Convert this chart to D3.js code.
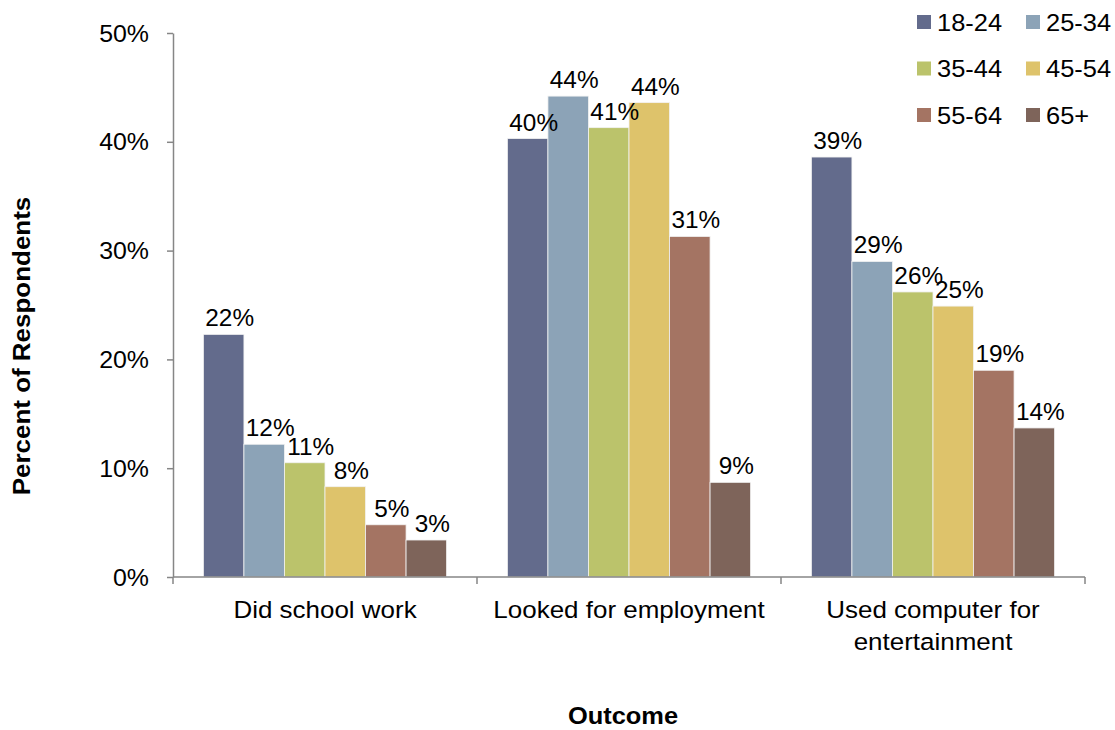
<!DOCTYPE html>
<html><head><meta charset="utf-8">
<script src="https://cdn.jsdelivr.net/npm/d3@7"></script>
<style>body{margin:0;background:#fff}text{font-family:"Liberation Sans",Arial,sans-serif;fill:#000}</style>
</head><body><svg id="c" width="1115" height="730"></svg>
<script>
const categories = [["Did school work"], ["Looked for employment"], ["Used computer for", "entertainment"]];
const seriesNames = ["18-24", "25-34", "35-44", "45-54", "55-64", "65+"];
const values = [
  [22.3, 12.2, 10.5, 8.3, 4.8, 3.4],
  [40.3, 44.2, 41.3, 43.6, 31.3, 8.7],
  [38.6, 29.0, 26.2, 24.9, 19.0, 13.7]
];
const labels = [
  ["22%", "12%", "11%", "8%", "5%", "3%"],
  ["40%", "44%", "41%", "44%", "31%", "9%"],
  ["39%", "29%", "26%", "25%", "19%", "14%"]
];
const yTicks = [0, 10, 20, 30, 40, 50];
const colors = ["#636b8c", "#8ca3b7", "#bbc36b", "#dec36b", "#a47463", "#7e645a"];

const svg = d3.select("#c");
const mLeft = 173, mRight = 1085, mTop = 33, mBottom = 577;
const SX = 1.06;
const x0 = d3.scaleBand().domain(d3.range(categories.length)).range([mLeft, mRight]).padding(0);
const x1 = d3.scaleBand().domain(d3.range(seriesNames.length)).range([0, x0.bandwidth()]).paddingOuter(0.75).paddingInner(0);
const y = d3.scaleLinear().domain([0, 50]).range([mBottom, mTop]);
const axisColor = "#868686";

function txt(parent, x, yy, s, size, anchor, rot) {
  return parent.append("text")
    .attr("transform", `translate(${x},${yy})` + (rot ? ` rotate(${rot})` : "") + ` scale(${SX},1)`)
    .attr("text-anchor", anchor || "middle").attr("font-size", size).text(s);
}

// bars
categories.forEach((c, ci) => {
  const g = svg.append("g").attr("transform", `translate(${x0(ci)},0)`);
  g.selectAll("rect").data(values[ci]).join("rect")
    .attr("x", (d, i) => x1(i)).attr("width", x1.bandwidth())
    .attr("y", d => y(d)).attr("height", d => y(0) - y(d))
    .attr("fill", (d, i) => colors[i])
    .attr("stroke", "#f2f2f2").attr("stroke-width", 0.8);
  values[ci].forEach((d, i) => {
    txt(g, x1(i) + x1.bandwidth() / 2 + 6, y(d) - 8, labels[ci][i], 23);
  });
});

// y axis
const yAxis = d3.axisLeft(y).tickValues(yTicks).tickFormat("").tickSize(6).tickSizeOuter(0);
const ya = svg.append("g").attr("transform", `translate(${mLeft},0)`).call(yAxis);
ya.select(".domain").attr("stroke", axisColor).attr("stroke-width", 1.5);
ya.selectAll(".tick line").attr("stroke", axisColor).attr("stroke-width", 1.5);
yTicks.forEach(t => txt(svg, mLeft - 24, y(t) + 8.5, t + "%", 23.5, "end"));

// x axis
const xa = svg.append("g").attr("transform", `translate(0,${mBottom})`);
xa.append("line").attr("x1", mLeft).attr("x2", mRight).attr("stroke", axisColor).attr("stroke-width", 1.5);
const bounds = d3.range(categories.length + 1).map(i => i < categories.length ? x0(i) : mRight);
xa.selectAll("line.t").data(bounds).join("line").attr("class", "t")
  .attr("x1", d => d).attr("x2", d => d).attr("y1", 0).attr("y2", 7)
  .attr("stroke", axisColor).attr("stroke-width", 1.5);
categories.forEach((c, ci) => {
  c.forEach((line, li) => txt(xa, x0(ci) + x0.bandwidth() / 2, 41 + li * 32, line, 24.5));
});

// axis titles
txt(svg, (mLeft + mRight) / 2 - 6, 724, "Outcome", 24).attr("font-weight", "bold");
txt(svg, 30, 346, "Percent of Respondents", 24.5, "middle", -90).attr("font-weight", "bold");

// legend
const lg = svg.append("g");
seriesNames.forEach((s, i) => {
  const col = i % 2, row = Math.floor(i / 2);
  const gx = 917 + col * 109, gy = 22 + row * 46.5;
  lg.append("rect").attr("x", gx).attr("y", gy - 7).attr("width", 14).attr("height", 14).attr("fill", colors[i]);
  txt(lg, gx + 20, gy + 8.5, s, 24, "start");
});
</script></body></html>
